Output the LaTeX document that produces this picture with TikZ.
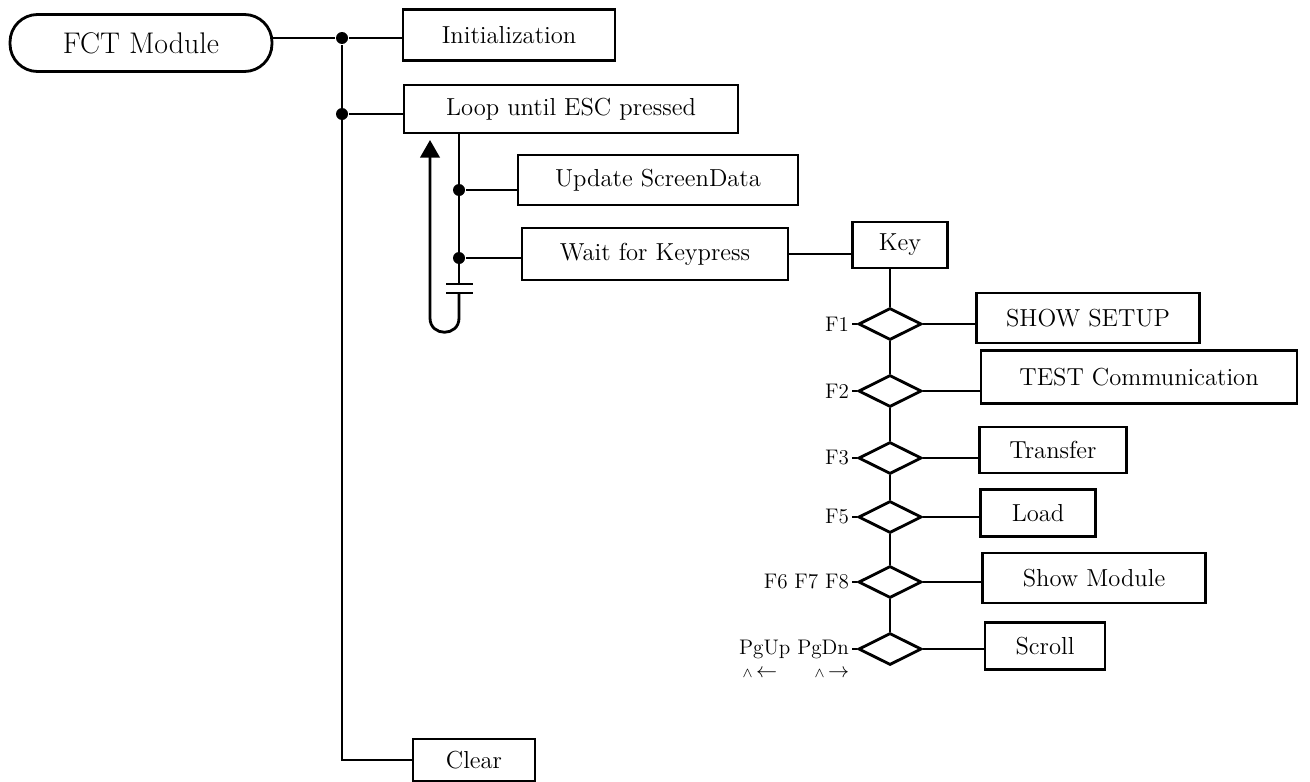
\documentclass[tikz,border=0pt]{standalone}
\usepackage{tikz}
\usetikzlibrary{positioning, arrows.meta, shapes.geometric}

\begin{document}
\begin{tikzpicture}[
  x=0.02cm, y=-0.02cm,
  box/.style={rectangle, draw, line width=1.6pt, inner sep=2pt, align=center, font=\fontsize{14}{16}\selectfont},
  decide/.style={diamond, draw, line width=1.6pt, inner sep=0pt, minimum width=1.26cm, minimum height=0.64cm},
  junction/.style={circle, fill, inner sep=0pt, minimum size=0.24cm},
  keylbl/.style={inner sep=1pt, font=\fontsize{12}{13}\selectfont},
  line width=1.6pt,
  node distance=0.1cm
]
\useasboundingbox (0,0) rectangle (1310,781);

% main column
\node[box, rounded corners=0.55cm, minimum width=5.24cm, minimum height=1.14cm, font=\fontsize{17}{20}\selectfont] (fct) at (141,43) {FCT Module};
\node[junction] (j1) at (342,38) {};
\node[junction] (j2) at (342,114) {};
\node[box, minimum width=4.24cm, minimum height=1.02cm] (init) at (509,35) {Initialization};
\node[box, minimum width=6.68cm, minimum height=0.96cm] (loop) at (571,109) {Loop until ESC pressed};
\node[box, minimum width=2.44cm, minimum height=0.84cm] (clear) at (474,760) {Clear};

% loop body
\node[junction] (j3) at (459,190) {};
\node[junction] (j4) at (459,258) {};
\node[box, minimum width=5.6cm, minimum height=1.0cm] (upd) at (658,180) {Update ScreenData};
\node[box, minimum width=5.32cm, minimum height=1.04cm] (wait) at (655,254) {Wait for Keypress};
\node[box, minimum width=1.9cm, minimum height=0.92cm] (key) at (900,245) {Key};
\coordinate (cap1) at (459,284);
\coordinate (cap2) at (459,293);
\coordinate (back) at (430,140);

% key branches
\node[decide] (d1) at (890,324) {};
\node[decide] (d2) at (890,391) {};
\node[decide] (d3) at (890,458) {};
\node[decide] (d4) at (890,517) {};
\node[decide] (d5) at (890,582) {};
\node[decide] (d6) at (890,649) {};
\node[box, minimum width=4.46cm, minimum height=1.0cm] (setup) at (1088,318) {SHOW SETUP};
\node[box, minimum width=6.32cm, minimum height=1.06cm] (test) at (1139,377) {TEST Communication};
\node[box, minimum width=2.94cm, minimum height=0.92cm] (transfer) at (1053,450) {Transfer};
\node[box, minimum width=2.3cm, minimum height=0.94cm] (load) at (1038,513) {Load};
\node[box, minimum width=4.46cm, minimum height=1.0cm] (showmod) at (1094,578) {Show Module};
\node[box, minimum width=2.4cm, minimum height=0.94cm] (scroll) at (1045,646) {Scroll};

\node[keylbl, left=of d1] (f1) {F1};
\node[keylbl, left=of d2] (f2) {F2};
\node[keylbl, left=of d3] (f3) {F3};
\node[keylbl, left=of d4] (f5) {F5};
\node[keylbl, left=of d5] (f678) {F6 F7 F8};
\node[keylbl, left=of d6] (pg) {PgUp PgDn};
\node[keylbl, below=3pt of pg.south west, anchor=north west, xshift=2pt] (pgup) {$\scriptstyle\wedge$\,$\leftarrow$};
\node[keylbl, right=0.62cm of pgup] (pgdn) {$\scriptstyle\wedge$\,$\rightarrow$};

\draw (j1 -| fct.east) -- (j1) -- (j1 -| init.west);
\draw (j2) -- (j2 -| loop.west);
\draw (j1) |- (clear.west);
\draw (loop.south -| j3) -- (cap1);
\draw (j3) -- (j3 -| upd.west);
\draw (j4) -- (j4 -| wait.west);
\draw (cap1) ++(-13,0) -- ++(27,0);
\draw (cap2) ++(-13,0) -- ++(27,0);
\draw[-{Triangle[width=11pt, length=10pt]}] (cap2) -- (459,318) .. controls (459,337) and (430,337) .. (430,318) -- (back);
\draw (wait.east) -- (wait.east -| key.west);
\draw (key.south -| d1) -- (d1.north);
\draw (d1.south) -- (d2.north);
\draw (d2.south) -- (d3.north);
\draw (d3.south) -- (d4.north);
\draw (d4.south) -- (d5.north);
\draw (d5.south) -- (d6.north);
\draw (d1.east) -- (d1.east -| setup.west);
\draw (d2.east) -- (d2.east -| test.west);
\draw (d3.east) -- (d3.east -| transfer.west);
\draw (d4.east) -- (d4.east -| load.west);
\draw (d5.east) -- (d5.east -| showmod.west);
\draw (d6.east) -- (d6.east -| scroll.west);
\draw[line width=0.8pt] (f1) -- (d1);
\draw[line width=0.8pt] (f2) -- (d2);
\draw[line width=0.8pt] (f3) -- (d3);
\draw[line width=0.8pt] (f5) -- (d4);
\draw[line width=0.8pt] (f678) -- (d5);
\draw[line width=0.8pt] (pg) -- (d6);
\end{tikzpicture}
\end{document}
